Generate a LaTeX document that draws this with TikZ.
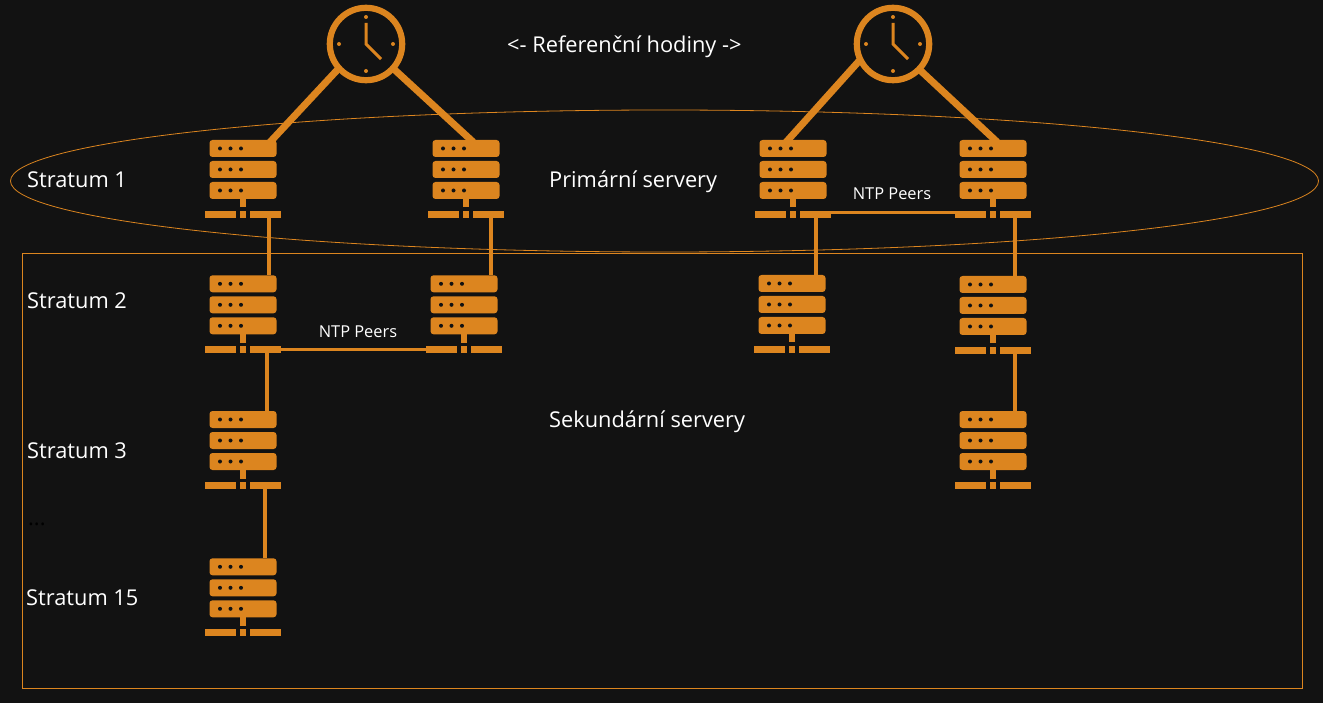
\documentclass[tikz,border=0pt]{standalone}
\usepackage{fontspec}
\setmainfont{Open Sans}
\definecolor{orangeNtp}{HTML}{DC851F}
\definecolor{bgNtp}{HTML}{121212}
\tikzset{
    part/.style={fill=orangeNtp, draw=none},
    link/.style={draw=orangeNtp, line width=3.6pt},
    rod/.style={draw=orangeNtp, line width=7pt, shorten >=-3pt},
    frame/.style={draw=orangeNtp, line width=0.8pt},
    label/.style={text=white, inner sep=0pt, anchor=west, font=\fontsize{21.8}{26}\selectfont},
    peers/.style={text=white, inner sep=0pt, font=\fontsize{16.4}{20}\selectfont},
    server/.pic={
        \foreach \y in {-38.5,-17.5,3.5} {
            \fill[part, rounded corners=3pt] (-33.5,\y) rectangle (33.5,\y+17);
            \foreach \x in {-23,-12.5,-2}
                \fill[bgNtp] (\x,\y+8.5) circle (2pt);
        }
        \fill[part] (-3.2,20.5) rectangle (3.2,29);
        \fill[part] (-38,32.5) rectangle (-7.3,39.2);
        \fill[part] (-3.2,32.5) rectangle (3.2,39.2);
        \fill[part] (7,32.5) rectangle (37.5,39.2);
        \coordinate (-top) at (0,-38.5);
        \coordinate (-bot) at (0,35.8);
        \coordinate (-left) at (-38,35.8);
        \coordinate (-right) at (37.5,35.8);
    },
    refclock/.pic={
        \draw[orangeNtp, line width=6.2pt] (0,0) circle (36.2pt);
        \foreach \a in {0,90,180,270}
            \fill[orangeNtp] (\a:27) circle (2pt);
        \draw[orangeNtp, line width=3pt] (0,-21) -- (0,0) -- (15,15);
        \coordinate (-c) at (0,0);
    }
}
\begin{document}
\begin{tikzpicture}[x=1pt, y=-1pt]
    \useasboundingbox[fill=bgNtp] (0,0) rectangle (1323,703);

    % Obrysy
    \draw[frame] (664.5,181) ellipse (654 and 71);
    \draw[frame] (22.5,253.5) rectangle (1302.5,688);

    % Hodiny
    \pic (clockA) at (366,44) {refclock};
    \pic (clockB) at (893,44) {refclock};

    % Servery
    \pic (srvA1) at (243,178.5) {server};
    \pic (srvB1) at (466,178.5) {server};
    \pic (srvC1) at (793,178.5) {server};
    \pic (srvD1) at (993,178.5) {server};
    \pic (srvA2) at (243,313.8) {server};
    \pic (srvB2) at (464,313.8) {server};
    \pic (srvC2) at (792,313.5) {server};
    \pic (srvD2) at (993,314.5) {server};
    \pic (srvA3) at (243,449.5) {server};
    \pic (srvD3) at (993,449.5) {server};
    \pic (srvA4) at (243,596.8) {server};

    % Spoje
    \draw[rod] ([shift={(138:38)}]clockA-c) -- ([xshift=29pt]srvA1-top);
    \draw[rod] ([shift={(42:38)}]clockA-c) -- ([xshift=5pt]srvB1-top);
    \draw[rod] ([shift={(154:37)}]clockB-c) -- ([xshift=-5pt]srvC1-top);
    \draw[rod] ([shift={(44:38)}]clockB-c) -- ([xshift=2pt]srvD1-top);
    \draw[link] ([xshift=26pt]srvA1-bot) -- ([xshift=26pt]srvA2-top);
    \draw[link] ([xshift=25pt]srvB1-bot) -- ([xshift=27pt]srvB2-top);
    \draw[link] ([xshift=23pt]srvC1-bot) -- ([xshift=24pt]srvC2-top);
    \draw[link] ([xshift=22pt]srvD1-bot) -- ([xshift=22pt]srvD2-top);
    \draw[link] ([xshift=22pt]srvD2-bot) -- ([xshift=22pt]srvD3-top);
    \draw[link] ([xshift=24pt]srvA2-bot) -- ([xshift=24pt]srvA3-top);
    \draw[link] ([xshift=22pt]srvA3-bot) -- ([xshift=22pt]srvA4-top);
    \draw[link] (srvA2-right) -- (srvB2-left);
    \draw[link] ([yshift=1.6pt]srvC1-right) -- ([yshift=1.6pt]srvD1-left);

    % Popisky
    \node[label] (lblS1) at (27,180) {Stratum 1};
    \node[label] (lblS2) at (27,301) {Stratum 2};
    \node[label] (lblS3) at (27,451) {Stratum 3};
    \node[label] (lblS15) at (26,598) {Stratum 15};
    \node[label, text=black] (lblDots) at (28,524) {...};
    \node[label] (lblRef) at (507,47) {<- Referenční hodiny ->};
    \node[label] (lblPrim) at (549,182) {Primární servery};
    \node[label] (lblSek) at (549,422) {Sekundární servery};
    \node[peers] (peersA) at (358,332) {NTP Peers};
    \node[peers] (peersB) at (892,194) {NTP Peers};
\end{tikzpicture}
\end{document}
